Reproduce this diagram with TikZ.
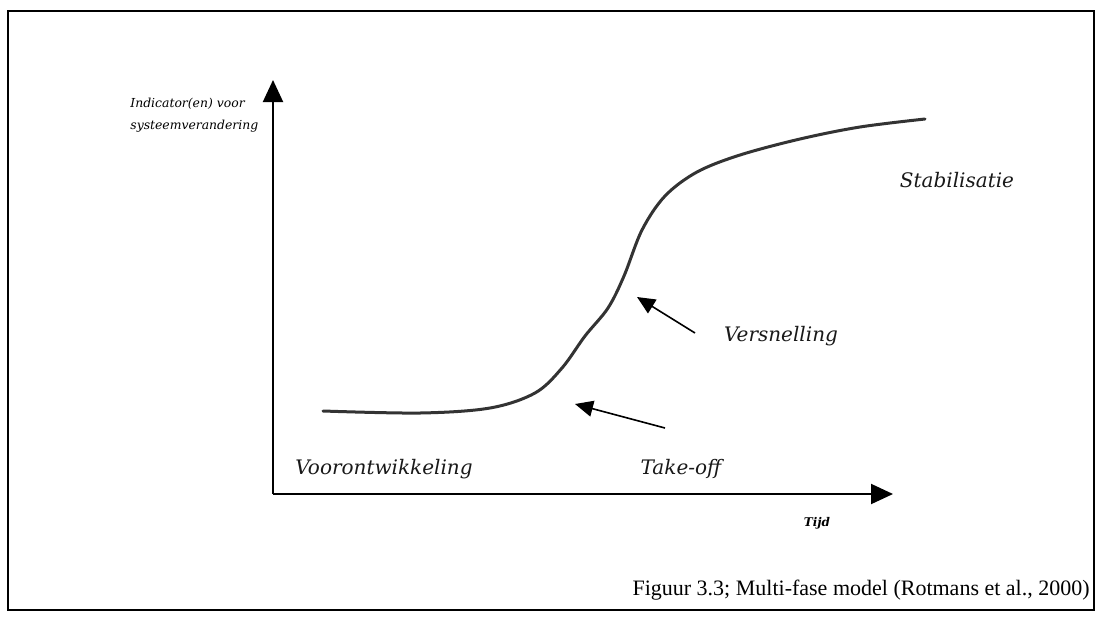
\documentclass[tikz,border=0pt]{standalone}
\usepackage{fontspec}
\setmainfont{Liberation Serif}
\newfontfamily\labelfont{DejaVu Serif}
\usetikzlibrary{arrows.meta}

\tikzset{
  axis/.style={line width=1pt,-{Triangle[length=11pt,width=10pt]}},
  pointer/.style={line width=0.8pt,-{Triangle[length=9pt,width=8pt]}},
  phase/.style={font=\labelfont\itshape\fontsize{10}{12}\selectfont,text=black!90,inner sep=0pt},
  axislabel/.style={font=\labelfont\itshape\fontsize{6.2}{11}\selectfont,inner sep=0pt},
}

\begin{document}
\begin{tikzpicture}[x=0.5pt,y=-0.5pt]
\useasboundingbox (0,0) rectangle (1101,616);
\draw[line width=1pt] (8,11) rectangle (1094,610);

\coordinate (origin) at (273,494);
\coordinate (ytip) at (273,80);
\coordinate (xtip) at (893,494);
\draw[axis] (origin) -- (ytip);
\draw[axis] (origin) -- (xtip);

\draw[line width=1.5pt,black!80,line cap=round] plot[smooth,tension=0.55] coordinates {
  (323,411) (420,413) (490,408) (535,393) (562,368) (585,336) (608,308)
  (624,276) (642,230) (665,196) (697,172) (740,155) (800,139) (860,127) (925,119)};

\node[axislabel,align=left,anchor=west] (indicator) at (130,115) {Indicator(en) voor\\systeemverandering};
\node[axislabel,font=\labelfont\itshape\bfseries\fontsize{6}{8}\selectfont] (tijd) at (817,523) {Tijd};

\node[phase] (voor) at (384,469) {Voorontwikkeling};
\node[phase] (takeoff) at (681,469) {Take-off};
\node[phase] (versnelling) at (781,336) {Versnelling};
\node[phase] (stabilisatie) at (957,180) {Stabilisatie};

\coordinate (takeofftail) at (665,428);
\coordinate (takeofftip) at (575,404);
\coordinate (versntail) at (695,333);
\coordinate (versntip) at (637,297);
\draw[pointer] (takeofftail) -- (takeofftip);
\draw[pointer] (versntail) -- (versntip);

\node[anchor=base east,font=\fontsize{11}{13}\selectfont,inner sep=0pt] (caption) at (1090,595)
  {Figuur 3.3; Multi-fase model (Rotmans et al., 2000)};
\end{tikzpicture}
\end{document}
